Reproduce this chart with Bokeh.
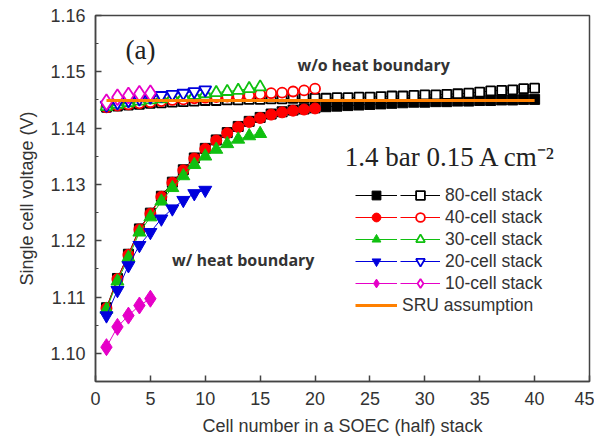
import math
from bokeh.plotting import figure
from bokeh.models import Legend, LegendItem, Label, SingleIntervalTicker, NumeralTickFormatter, Range1d
from bokeh.embed import file_html
from bokeh.resources import INLINE

# ---- data ----
x80 = list(range(1, 41))
v80_heat = [1.1081, 1.1133, 1.1176, 1.1221, 1.1249, 1.1279, 1.1304, 1.1326, 1.1347, 1.1364,
            1.1379, 1.1392, 1.1403, 1.1412, 1.1419, 1.1425, 1.1429, 1.1432, 1.1434, 1.1436,
            1.1438, 1.1439, 1.1440, 1.1441, 1.1442, 1.1443, 1.1444, 1.1445, 1.1446, 1.1446,
            1.1447, 1.1447, 1.1448, 1.1448, 1.1449, 1.1449, 1.1450, 1.1450, 1.1451, 1.1451]
v80_noheat = [1.1437, 1.1439, 1.1441, 1.1442, 1.1444, 1.1445, 1.1446, 1.1447, 1.1448, 1.1449,
              1.1449, 1.1450, 1.1450, 1.1451, 1.1451, 1.1452, 1.1452, 1.1453, 1.1453, 1.1453,
              1.1453, 1.1454, 1.1454, 1.1455, 1.1455, 1.1456, 1.1457, 1.1457, 1.1458, 1.1459,
              1.1459, 1.1460, 1.1461, 1.1462, 1.1464, 1.1466, 1.1467, 1.1468, 1.1470, 1.1471]

x40 = list(range(1, 21))
v40_heat = [1.1080, 1.1132, 1.1175, 1.1220, 1.1248, 1.1278, 1.1303, 1.1325, 1.1346, 1.1363,
            1.1378, 1.1391, 1.1402, 1.1411, 1.1418, 1.1424, 1.1428, 1.1431, 1.1433, 1.1435]
v40_noheat = [1.1437, 1.1440, 1.1442, 1.1444, 1.1446, 1.1448, 1.1450, 1.1451, 1.1453, 1.1454,
              1.1455, 1.1456, 1.1457, 1.1458, 1.1460, 1.1462, 1.1463, 1.1465, 1.1467, 1.1470]

x30 = list(range(1, 16))
v30_heat = [1.1078, 1.1128, 1.1170, 1.1215, 1.1242, 1.1270, 1.1294, 1.1315, 1.1335, 1.1350,
            1.1362, 1.1372, 1.1380, 1.1386, 1.1390]
v30_noheat = [1.1438, 1.1442, 1.1445, 1.1448, 1.1450, 1.1452, 1.1454, 1.1456, 1.1458, 1.1461,
              1.1463, 1.1465, 1.1467, 1.1470, 1.1473]

x20 = list(range(1, 11))
v20_heat = [1.1067, 1.1112, 1.1156, 1.1192, 1.1215, 1.1239, 1.1257, 1.1272, 1.1284, 1.1290]
v20_noheat = [1.1441, 1.1445, 1.1449, 1.1452, 1.1455, 1.1458, 1.1460, 1.1462, 1.1465, 1.1468]

x10 = list(range(1, 6))
v10_heat = [1.1011, 1.1047, 1.1067, 1.1085, 1.1097]
v10_noheat = [1.1446, 1.1455, 1.1458, 1.1461, 1.1462]

sru_x = [1, 40]
sru_v = [1.1449, 1.1449]

labels = ["80-cell stack", "40-cell stack", "30-cell stack", "20-cell stack", "10-cell stack"]
colors = ["#000000", "#FF0000", "#10C010", "#0000DD", "#E600C8"]
markers = ["square", "circle", "triangle", "inverted_triangle", "diamond"]
sizes = [10, 11, 13, 13, 17]

xs = [x80, x40, x30, x20, x10]
heat = [v80_heat, v40_heat, v30_heat, v20_heat, v10_heat]
noheat = [v80_noheat, v40_noheat, v30_noheat, v20_noheat, v10_noheat]

TXT = "#333333"
SANS = "Liberation Sans"

p = figure(width=594, height=441, output_backend="svg", toolbar_location=None,
           x_range=Range1d(0, 45), y_range=Range1d(1.095, 1.16),
           min_border_left=95, min_border_right=5, min_border_top=15, min_border_bottom=60)
p.grid.visible = False
p.outline_line_color = "#444444"
p.outline_line_width = 1.5
p.background_fill_color = "white"

p.xaxis.ticker = SingleIntervalTicker(interval=5, num_minor_ticks=0)
p.yaxis.ticker = SingleIntervalTicker(interval=0.01, num_minor_ticks=2)
p.yaxis.formatter = NumeralTickFormatter(format="0.00")
for ax in (p.xaxis[0], p.yaxis[0]):
    ax.axis_line_color = "#444444"
    ax.axis_line_width = 1.5
    ax.major_tick_line_color = "#444444"
    ax.minor_tick_line_color = "#444444"
    ax.major_tick_line_width = 1.5
    ax.minor_tick_line_width = 1.2
    ax.major_tick_in = 6
    ax.major_tick_out = 0
    ax.minor_tick_in = 3
    ax.minor_tick_out = 0
    ax.major_label_text_font = SANS
    ax.major_label_text_font_size = "18px"
    ax.major_label_text_color = TXT
    ax.axis_label_text_font = SANS
    ax.axis_label_text_font_size = "18px"
    ax.axis_label_text_font_style = "normal"
    ax.axis_label_text_color = TXT
p.xaxis.axis_label = "Cell number in a SOEC (half) stack"
p.yaxis.axis_label = "Single cell voltage (V)"
p.xaxis.major_label_standoff = 10
p.xaxis.axis_label_standoff = 8
p.yaxis.major_label_standoff = 10
p.yaxis.axis_label_standoff = 10

items_a = []
items_b = []
for lab, col, mk, sz, x, vh, vn in zip(labels, colors, markers, sizes, xs, heat, noheat):
    l1 = p.line(x, vh, line_color=col, line_width=1)
    s1 = p.scatter(x, vh, marker=mk, size=sz, fill_color=col, line_color=col, line_width=1)
    l2 = p.line(x, vn, line_color=col, line_width=1)
    s2 = p.scatter(x, vn, marker=mk, size=sz - 1, fill_color="white", line_color=col, line_width=1.8)
    items_a.append(LegendItem(label=" ", renderers=[l1, s1]))
    items_b.append(LegendItem(label=lab, renderers=[l2, s2]))

sru = p.line(sru_x, sru_v, line_color="#FF8000", line_width=3)
items_a.append(LegendItem(label="SRU assumption", renderers=[sru]))

def make_legend(items, gw, loc):
    return Legend(items=items, location=loc, glyph_width=gw, glyph_height=22, label_height=20,
                  spacing=0, padding=0, margin=0, label_standoff=5,
                  border_line_alpha=0, background_fill_alpha=0,
                  label_text_font=SANS, label_text_font_size="17.5px", label_text_color=TXT)

p.add_layout(make_legend(items_a, 42, (260, 65)))
p.add_layout(make_legend(items_b, 40, (305, 87)))

p.add_layout(Label(x=2.73, y=1.1538, text="(a)", text_font="Liberation Serif",
                   text_font_size="27px", text_color="#222222", text_baseline="middle"))
p.add_layout(Label(x=18.4, y=1.1512, text="w/o heat boundary", text_font="Open Sans",
                   text_font_style="bold", text_font_size="16px", text_color=TXT, text_baseline="middle"))
p.add_layout(Label(x=6.97, y=1.1165, text="w/ heat boundary", text_font="Open Sans",
                   text_font_style="bold", text_font_size="16px", text_color=TXT, text_baseline="middle"))
p.add_layout(Label(x=22.7, y=1.1349, text="1.4 bar 0.15 A cm\u207b\u00b2", text_font="Liberation Serif",
                   text_font_size="27px", text_color="#222222", text_baseline="middle"))

open("out.html", "w").write(file_html(p, INLINE))
